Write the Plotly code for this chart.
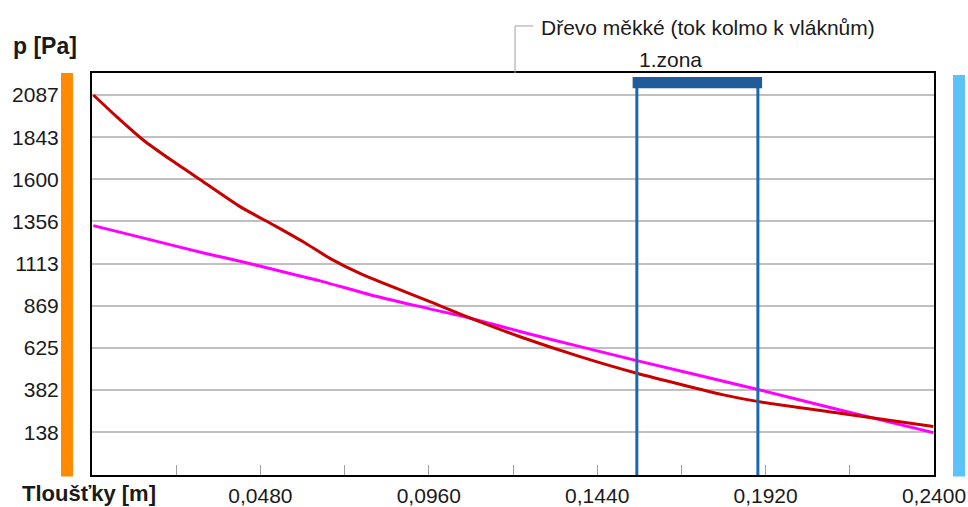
import plotly.graph_objects as go

# thickness [m] and pressure [Pa]
red_x = [0.0004, 0.0070, 0.0146, 0.0232, 0.0317, 0.0422, 0.0517, 0.0602, 0.0678,
         0.0773, 0.0963, 0.1068, 0.1220, 0.1391, 0.1553, 0.1800, 0.1900, 0.2132, 0.2398]
red_p = [2087, 1962, 1827, 1702, 1586, 1442, 1336, 1239, 1143,
         1047, 893, 806, 690, 575, 479, 354, 315, 248, 171]

mag_x = [0.0004, 0.0165, 0.0327, 0.0431, 0.0584, 0.0650, 0.0792, 0.0935, 0.1078,
         0.1239, 0.1391, 0.1553, 0.1895, 0.2132, 0.2398]
mag_p = [1332, 1251, 1170, 1122, 1045, 1013, 933, 864, 797,
         710, 633, 552, 387, 267, 136]

y_ticks = [138, 382, 625, 869, 1113, 1356, 1600, 1843, 2087]
x_ticks = [0.024, 0.048, 0.072, 0.096, 0.120, 0.144, 0.168, 0.192, 0.216, 0.240]
x_labels = ["", "0,0480", "", "0,0960", "", "0,1440", "", "0,1920", "", "0,2400"]

zone_start = 0.1553
zone_end = 0.1898
zone_name = "1.zona"
title = "Dřevo měkké (tok kolmo k vláknům)"

FONT = "Liberation Sans"
TXT = "#1a1a1a"

fig = go.Figure()
fig.add_trace(go.Scatter(x=mag_x, y=mag_p, mode="lines",
                         line=dict(color="#ff00ff", width=3, shape="spline", smoothing=0.6)))
fig.add_trace(go.Scatter(x=red_x, y=red_p, mode="lines",
                         line=dict(color="#c80000", width=3, shape="spline", smoothing=0.6)))

# zone markers
for zx in (zone_start, zone_end):
    fig.add_shape(type="line", x0=zx, x1=zx, xref="x", y0=0, y1=0.975, yref="paper",
                  line=dict(color="#1a68b0", width=3))
fig.add_shape(type="rect", x0=zone_start - 0.0012, x1=zone_end + 0.0012, xref="x",
              y0=0.962, y1=0.99, yref="paper", fillcolor="#1f5c99", line_width=0)

# side bars
fig.add_shape(type="rect", xref="paper", yref="paper", x0=-0.0368, x1=-0.0226,
              y0=-0.004, y1=1.0, fillcolor="#ff8a00", line_width=0)
fig.add_shape(type="rect", xref="paper", yref="paper", x0=1.0226, x1=1.0368,
              y0=-0.004, y1=0.995, fillcolor="#5cc2fa", line_width=0)

# bracket next to the title
fig.add_shape(type="path", xref="paper", yref="paper",
              path="M 0.5024,1 L 0.5024,1.117 L 0.5238,1.117",
              line=dict(color="#a0a0a0", width=1))

fig.add_annotation(text=title, xref="paper", yref="paper", x=0.531, y=1.112,
                   xanchor="left", yanchor="middle", showarrow=False,
                   font=dict(family=FONT, size=21, color=TXT))
fig.add_annotation(text=zone_name, xref="x", yref="paper", x=zone_start, y=1.033,
                   xanchor="left", yanchor="middle", showarrow=False,
                   font=dict(family=FONT, size=21, color=TXT))
fig.add_annotation(text="<b>p [Pa]</b>", xref="paper", yref="paper", x=-0.096, y=1.066,
                   xanchor="left", yanchor="middle", showarrow=False,
                   font=dict(family=FONT, size=23, color=TXT))
fig.add_annotation(text="<b>Tloušťky [m]</b>", xref="paper", yref="paper", x=-0.086, y=-0.047,
                   xanchor="left", yanchor="middle", showarrow=False,
                   font=dict(family=FONT, size=22, color=TXT))

fig.update_xaxes(range=[0, 0.24], tickvals=x_ticks, ticktext=x_labels,
                 ticks="inside", ticklen=10, tickwidth=1, tickcolor="#a0a0a0",
                 showgrid=False, zeroline=False, showline=True, linecolor="black",
                 linewidth=2, mirror=True, ticklabelstandoff=1, automargin=False,
                 tickfont=dict(family=FONT, size=21, color=TXT))
fig.update_yaxes(range=[-109, 2214], tickvals=y_ticks, ticktext=[str(v) for v in y_ticks],
                 ticks="", showgrid=True, gridcolor="#c0c0c0", gridwidth=2,
                 zeroline=False, showline=True, linecolor="black", linewidth=2,
                 mirror=True, ticklabelstandoff=27, automargin=False,
                 tickfont=dict(family=FONT, size=21, color=TXT))

fig.update_layout(width=968, height=507, showlegend=False,
                  margin=dict(l=92, r=34, t=73, b=32, autoexpand=False),
                  paper_bgcolor="white", plot_bgcolor="white")

# the page body has a default 8px margin; drop it so the figure sits at 0,0
fig.write_html("out.html", config={"displayModeBar": False},
               post_script="document.body.style.margin='0';")
